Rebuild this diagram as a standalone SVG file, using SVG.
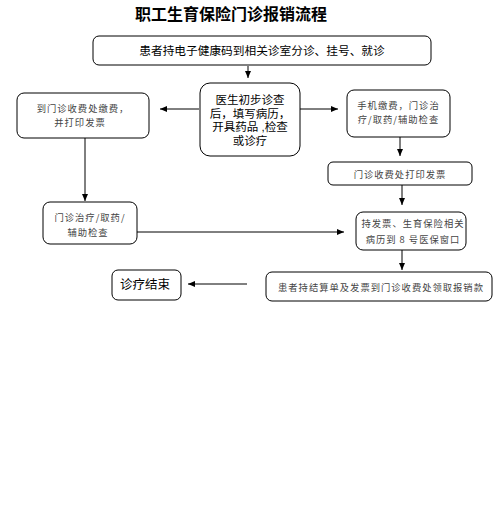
<svg xmlns="http://www.w3.org/2000/svg" width="497" height="511" viewBox="0 0 497 511">
<style>
.box{fill:#fff;stroke:#000;stroke-width:1}
.t{font-family:"Noto Sans CJK SC","Noto Sans",sans-serif;text-anchor:middle;fill:#000}
.c{font-family:"Liberation Sans","Noto Sans CJK SC",sans-serif;text-anchor:middle;fill:#000;font-size:11.5px}
.s{font-family:"Noto Sans CJK SC","Noto Sans",sans-serif;text-anchor:middle;fill:#444;font-size:9.3px;letter-spacing:1px}
.ln{stroke:#000;stroke-width:1;fill:none}
</style>
<defs>
<marker id="ah" markerWidth="8" markerHeight="8" refX="7" refY="4" orient="auto" markerUnits="userSpaceOnUse">
<path d="M0,1 L7,4 L0,7 Z" fill="#000"/>
</marker>
</defs>
<rect width="497" height="511" fill="#fff"/>
<text class="t" x="231" y="20" font-size="16" font-weight="bold">职工生育保险门诊报销流程</text>

<g id="connectors">
<line class="ln" x1="248" y1="66" x2="248" y2="78" marker-end="url(#ah)"/>
<line class="ln" x1="199" y1="109" x2="160" y2="109" marker-end="url(#ah)"/>
<line class="ln" x1="298" y1="109" x2="338" y2="109" marker-end="url(#ah)"/>
<line class="ln" x1="400" y1="137" x2="400" y2="156" marker-end="url(#ah)"/>
<line class="ln" x1="402" y1="185" x2="402" y2="205" marker-end="url(#ah)"/>
<line class="ln" x1="402" y1="250" x2="402" y2="270" marker-end="url(#ah)"/>
<line class="ln" x1="85" y1="138" x2="85" y2="201" marker-end="url(#ah)"/>
<line class="ln" x1="137" y1="232" x2="344" y2="232" marker-end="url(#ah)"/>
<line class="ln" x1="247" y1="284" x2="188" y2="284" marker-end="url(#ah)"/>
</g>

<g id="n1">
<rect class="box" x="93" y="36" width="338" height="29" rx="6"/>
<text class="t" x="262" y="54.5" font-size="11.7">患者持电子健康码到相关诊室分诊、挂号、就诊</text>
</g>
<g id="n2">
<rect class="box" x="200" y="83" width="100" height="73" rx="10"/>
<text class="c" x="250" y="104">医生初步诊查</text>
<text class="c" x="250" y="117.5">后，填写病历，</text>
<text class="c" x="250" y="131">开具药品 ,检查</text>
<text class="c" x="250" y="144.5">或诊疗</text>
</g>
<g id="n3">
<rect class="box" x="17" y="93" width="132" height="45" rx="7"/>
<text class="s"><tspan x="83" y="112">到门诊收费处缴费，</tspan><tspan x="80" y="126">并打印发票</tspan></text>
</g>
<g id="n4">
<rect class="box" x="347" y="90" width="103" height="47" rx="7"/>
<text class="s"><tspan x="398.5" y="108.5">手机缴费，门诊治</tspan><tspan x="398.5" y="123">疗/取药/辅助检查</tspan></text>
</g>
<g id="n5">
<rect class="box" x="328" y="162" width="144" height="23" rx="5"/>
<text class="s" x="400" y="178">门诊收费处打印发票</text>
</g>
<g id="n6">
<rect class="box" x="43" y="202" width="94" height="42" rx="7"/>
<text class="s"><tspan x="90" y="220.5">门诊治疗/取药/</tspan><tspan x="88" y="235.5">辅助检查</tspan></text>
</g>
<g id="n7">
<rect class="box" x="356" y="212" width="110" height="38" rx="7"/>
<text class="s"><tspan x="413" y="227">持发票、生育保险相关</tspan><tspan x="413" y="242.5">病历到 8 号医保窗口</tspan></text>
</g>
<g id="n8">
<rect class="box" x="266" y="272" width="226" height="29" rx="6"/>
<text class="s" x="381" y="290.5">患者持结算单及发票到门诊收费处领取报销款</text>
</g>
<g id="n9">
<rect class="box" x="112" y="270" width="69" height="30" rx="6"/>
<text class="t" x="145" y="288.5" font-size="12.5">诊疗结束</text>
</g>
</svg>
